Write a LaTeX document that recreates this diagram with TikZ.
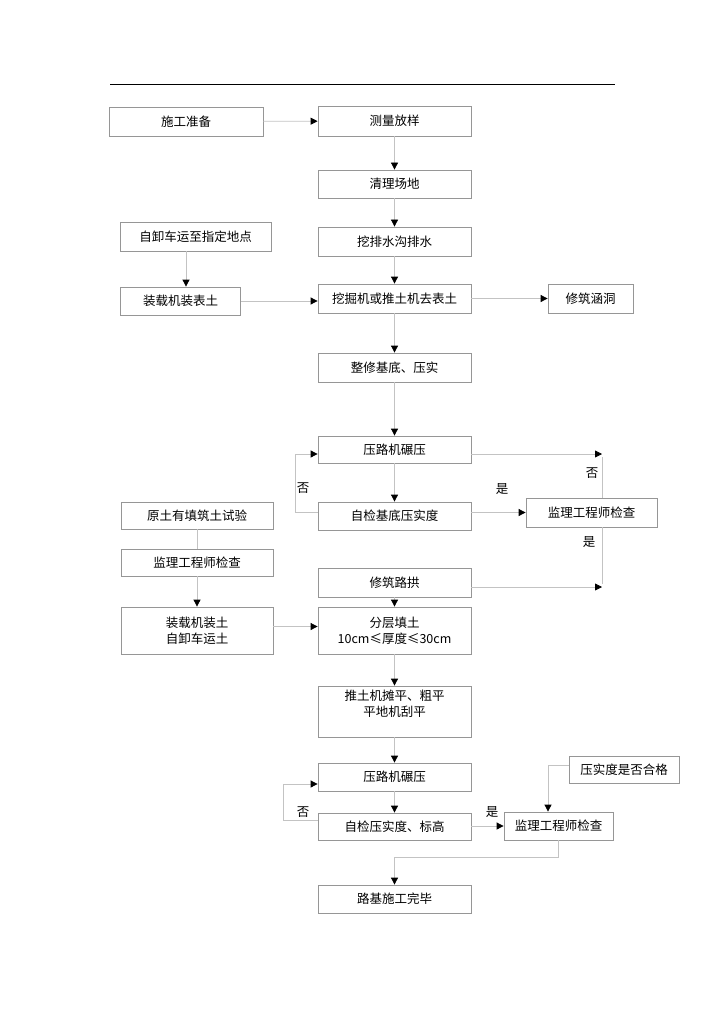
\documentclass[tikz,border=0pt]{standalone}
\usepackage{fontspec}
\usepackage{tikz}
\usetikzlibrary{arrows.meta,positioning}
\newfontfamily\cjk{Noto Sans CJK SC}
\definecolor{box_gray}{RGB}{150,150,150}
\definecolor{line_gray}{RGB}{195,195,195}

\begin{document}
\begin{tikzpicture}[x=1pt,y=-1pt,
    box/.style={draw=box_gray,line width=0.8pt,minimum width=153,minimum height=29,inner sep=0pt,align=center,font=\cjk\fontsize{12.5}{16}\selectfont},
    link/.style={line_gray,line width=0.8pt,-{Triangle[black,length=7pt,width=7pt]}},
    plain/.style={line_gray,line width=0.8pt},
    tag/.style={inner sep=0pt,font=\cjk\fontsize{12.5}{16}\selectfont}]
          \useasboundingbox (0,0) rectangle (724,1024);
          \draw[line width=1pt] (110,85)--(615,85);
          % upper part
          \node[box,minimum width=154] (prep) at (186,121.5) {施工准备};
          \node[box,minimum height=30] (survey) at (394.5,121) {测量放样};
          \node[box,minimum height=28] (clear) at (394.5,184) {清理场地};
          \node[box] (ditch) at (394.5,241.5) {挖排水沟排水};
          \node[box] (strip) at (394.5,298.5) {挖掘机或推土机去表土};
          \node[box,minimum width=85] (culvert) at (590.5,298.5) {修筑涵洞};
          \node[box,minimum width=151] (dump) at (195.5,236.5) {自卸车运至指定地点};
          \node[box,minimum width=120,minimum height=28] (loader) at (180.5,301) {装载机装表土};
          \node[box] (level) at (394.5,367.5) {整修基底、压实};
          \draw[link] (prep)--(survey);
          \draw[link] (survey)--(clear);
          \draw[link] (clear)--(ditch);
          \draw[link] (ditch)--(strip);
          \draw[link] (strip)--(culvert);
          \draw[link] ([xshift=-9.5pt]dump.south)--([xshift=-9.5pt]dump.south |- loader.north);
          \draw[link] (loader)--(loader -| strip.west);
          \draw[link] (strip)--(level);
          % base compaction
          \node[box,minimum height=27] (roll1) at (394.5,449.5) {压路机碾压};
          \node[box,minimum height=28] (check1) at (394.5,516) {自检基底压实度};
          \node[box,minimum width=131] (sup1) at (591.5,512.5) {监理工程师检查};
          \coordinate (jr) at (602,454);
          \coordinate (ja) at (602,587);
          \draw[link] (level)--(roll1);
          \draw[link] (roll1)--(check1);
          \draw[link] ([yshift=4pt]check1.west)--++(-22,0) |- ([yshift=-4.5pt]roll1.west);
          \node[tag] at (303,488) {否};
          \draw[link] ([yshift=-4.5pt]roll1.east)--(jr);
          \draw[plain] (sup1.north -| jr)--([yshift=-3pt]jr);
          \node[tag] at (592,473) {否};
          \draw[link] (check1.east |- sup1.west)--(sup1.west);
          \node[tag] at (502,489) {是};
          \draw[plain] (sup1.south -| jr)--([yshift=3pt]ja);
          \node[tag] at (589,542) {是};
          % filling
          \node[box,minimum width=152,minimum height=27] (test) at (197,515.5) {原土有填筑土试验};
          \node[box,minimum width=152,minimum height=27] (sup2) at (197,562.5) {监理工程师检查};
          \node[box,minimum width=152,minimum height=47] (haul) at (197,630.5) {装载机装土\\自卸车运土};
          \node[box] (arch) at (394.5,582.5) {修筑路拱};
          \node[box,minimum height=47] (layer) at (394.5,630.5) {分层填土\\10cm≤厚度≤30cm};
          \draw[plain] (test)--(sup2);
          \draw[link] (sup2)--(haul);
          \draw[link] ([yshift=4pt]haul.east)--([yshift=4pt]haul.east -| layer.west);
          \draw[link] ([yshift=-4.5pt]arch.east)--(ja);
          \draw[link] (arch)--(layer);
          % finishing
          \node[box,minimum height=51] (spread) at (394.5,711.5) {推土机摊平、粗平\\平地机刮平\\\mbox{}};
          \node[box,minimum height=28] (roll2) at (394.5,777) {压路机碾压};
          \node[box,minimum height=27] (check2) at (394.5,826.5) {自检压实度、标高};
          \node[box,minimum width=109,minimum height=28] (sup3) at (558.5,826) {监理工程师检查};
          \node[box,minimum width=110,minimum height=27] (crit) at (624,769.5) {压实度是否合格};
          \node[box,minimum height=28] (done) at (394.5,899) {路基施工完毕};
          \draw[link] (layer)--(spread);
          \draw[link] (spread)--(roll2);
          \draw[link] (roll2)--(check2);
          \draw[link] ([yshift=6.5pt]check2.west)--++(-34,0) |- ([yshift=-7pt]roll2.west);
          \node[tag] at (303,812) {否};
          \draw[link] (check2.east |- sup3.west)--(sup3.west);
          \node[tag] at (492,812) {是};
          \draw[link] ([yshift=4.5pt]crit.west) -| ([xshift=-10.5pt]sup3.north);
          \draw[link] (sup3.south)--++(0,17) -| (done.north);
        \end{tikzpicture}
\end{document}
